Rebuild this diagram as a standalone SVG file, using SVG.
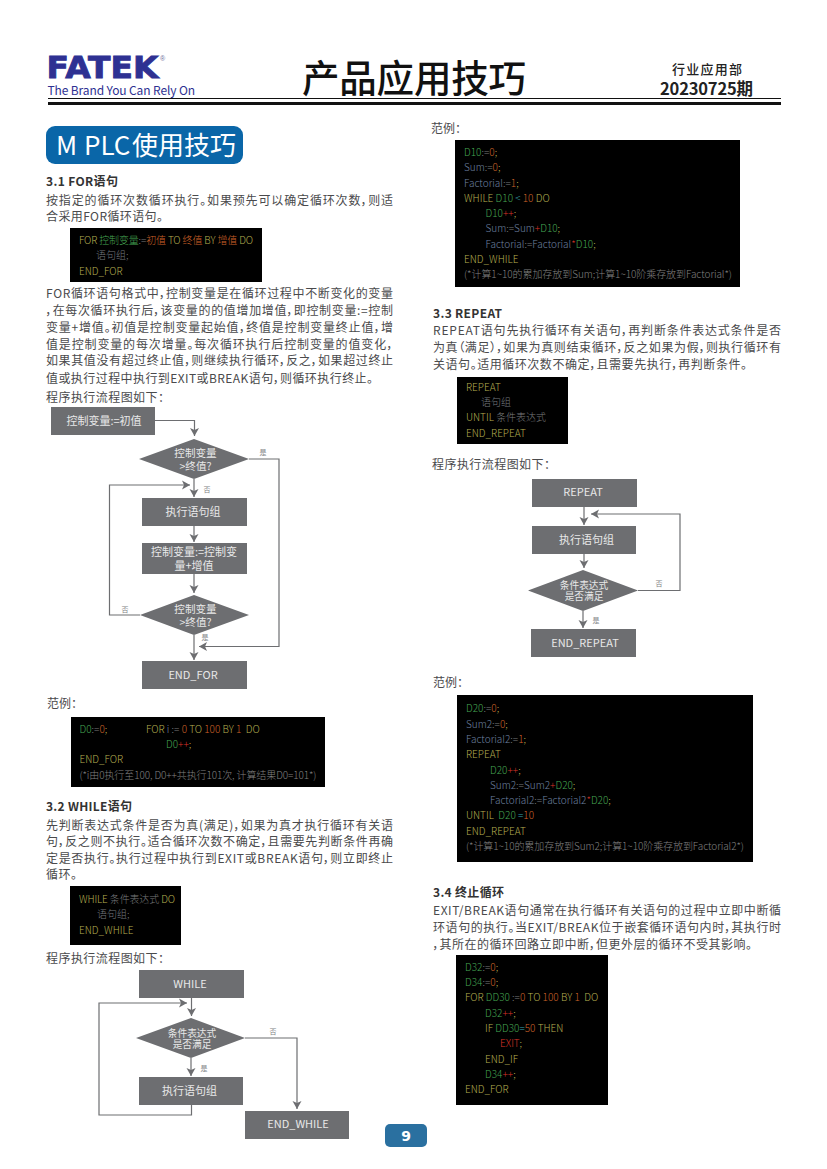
<svg xmlns="http://www.w3.org/2000/svg" width="827" height="1169" viewBox="0 0 827 1169">
<style>
text{font-family:"Noto Sans CJK SC","Noto Sans",sans-serif;font-feature-settings:"palt";white-space:pre}
.b{font-size:12px;fill:#4a4a4c}
.h{font-size:12px;font-weight:700;fill:#333}
.c{font-size:10px;font-weight:300;fill:#74787e}
.k{fill:#b5ae50}.g{fill:#45a552}.o{fill:#cc6028}.r{fill:#d83428}.n{fill:#6e80a0}.t{fill:#38a5b0}.m{fill:#808080}.w{fill:#787a7c}
.nb{fill:#6d6e71}
.l{font-size:11px;fill:#e8e8e8;text-anchor:middle}
.d{font-size:10.6px;fill:#e8e8e8;text-anchor:middle}
.d2{font-size:9.7px;fill:#e8e8e8;text-anchor:middle}
.e{font-size:7px;fill:#808285;text-anchor:middle}
.cn path,.cn polyline{fill:none;stroke:#6d6e71;stroke-width:1.2}
</style>
<defs>
<marker id="a" markerUnits="userSpaceOnUse" markerWidth="10" markerHeight="10" refX="8" refY="5" orient="auto"><path d="M0,0.5 L8,5 L0,9.5 L2,5 Z" fill="#6d6e71"/></marker>
</defs>
<rect width="827" height="1169" fill="#fff"/>

<g id="header">
<text x="46.5" y="78" font-size="31" fill="#2e3192" stroke="#2e3192" stroke-width="0.9" textLength="112" lengthAdjust="spacingAndGlyphs" style="font-family:'DejaVu Sans','Liberation Sans',sans-serif;font-weight:700">FATEK</text>
<text x="160" y="61" font-size="7" fill="#6d6e9a" style="font-family:'Liberation Sans',sans-serif">®</text>
<text x="47.5" y="95" font-size="12" fill="#2e3192" textLength="147.5">The Brand You Can Rely On</text>
<text x="302" y="92" font-size="37.5" font-weight="500" fill="#111" textLength="224">产品应用技巧</text>
<text x="672" y="74" font-size="13" font-weight="500" fill="#222" textLength="70">行业应用部</text>
<text x="660" y="95" font-size="16.5" font-weight="700" fill="#222" textLength="93">20230725期</text>
<rect x="48" y="98" width="733" height="1" fill="#111"/>
<rect x="48" y="102" width="733" height="3" fill="#111"/>
</g>

<g id="title">
<rect x="46" y="126" width="197" height="38" rx="9" fill="#0a66a8"/>
<text y="155" font-size="26" fill="#fff"><tspan x="56">M</tspan><tspan x="84">PLC</tspan><tspan x="132">使用技巧</tspan></text>
</g>

<g id="left-text">
<text class="h" x="46" y="186" textLength="72">3.1 FOR语句</text>
<text class="b" x="46" y="205" textLength="347">按指定的循环次数循环执行。如果预先可以确定循环次数，则适</text>
<text class="b" x="46" y="221" textLength="117">合采用FOR循环语句。</text>
<text class="b" x="46" y="298" textLength="347">FOR循环语句格式中，控制变量是在循环过程中不断变化的变量</text>
<text class="b" x="46" y="315" textLength="347">，在每次循环执行后，该变量的的值增加增值，即控制变量:=控制</text>
<text class="b" x="46" y="332" textLength="347">变量+增值。初值是控制变量起始值，终值是控制变量终止值，增</text>
<text class="b" x="46" y="349" textLength="347">值是控制变量的每次增量。每次循环执行后控制变量的值变化，</text>
<text class="b" x="46" y="365" textLength="347">如果其值没有超过终止值，则继续执行循环，反之，如果超过终止</text>
<text class="b" x="46" y="383" textLength="327">值或执行过程中执行到EXIT或BREAK语句，则循环执行终止。</text>
<text class="b" x="46" y="402" textLength="118">程序执行流程图如下：</text>
<text class="b" x="47" y="708" textLength="30">范例：</text>
<text class="h" x="46" y="811" textLength="86">3.2 WHILE语句</text>
<text class="b" x="46" y="830" textLength="347">先判断表达式条件是否为真(满足)，如果为真才执行循环有关语</text>
<text class="b" x="46" y="846" textLength="347">句，反之则不执行。适合循环次数不确定，且需要先判断条件再确</text>
<text class="b" x="46" y="863" textLength="347">定是否执行。执行过程中执行到EXIT或BREAK语句，则立即终止</text>
<text class="b" x="46" y="879" textLength="31">循环。</text>
<text class="b" x="46" y="963" textLength="118">程序执行流程图如下：</text>
</g>

<g id="right-text">
<text class="b" x="431" y="133" textLength="30">范例：</text>
<text class="h" x="433" y="318" textLength="69">3.3 REPEAT</text>
<text class="b" x="433" y="335" textLength="348">REPEAT语句先执行循环有关语句，再判断条件表达式条件是否</text>
<text class="b" x="433" y="352" textLength="348">为真（满足），如果为真则结束循环，反之如果为假，则执行循环有</text>
<text class="b" x="433" y="369" textLength="314">关语句。适用循环次数不确定，且需要先执行，再判断条件。</text>
<text class="b" x="432" y="469" textLength="118">程序执行流程图如下：</text>
<text class="b" x="433" y="687" textLength="30">范例：</text>
<text class="h" x="433" y="897" textLength="71">3.4 终止循环</text>
<text class="b" x="433" y="915" textLength="348">EXIT/BREAK语句通常在执行循环有关语句的过程中立即中断循</text>
<text class="b" x="433" y="932" textLength="348">环语句的执行。当EXIT/BREAK位于嵌套循环语句内时，其执行时</text>
<text class="b" x="433" y="949" textLength="319">，其所在的循环回路立即中断，但更外层的循环不受其影响。</text>
</g>

<g id="code-for-syntax">
<rect x="70" y="228" width="192" height="54" fill="#000"/>
<text class="c" x="79" y="244" textLength="174"><tspan class="k">FOR </tspan><tspan class="g">控制变量</tspan><tspan class="w">:=</tspan><tspan class="o">初值</tspan><tspan class="k"> TO </tspan><tspan class="o">终值</tspan><tspan class="k"> BY </tspan><tspan class="o">增值</tspan><tspan class="k"> DO</tspan></text>
<text class="c" x="96" y="259">语句组;</text>
<text class="c k" x="79" y="275">END_FOR</text>
</g>

<g id="code-for-example">
<rect x="71" y="717" width="254" height="70" fill="#000"/>
<text class="c" x="79.5" y="733"><tspan class="g">D0</tspan><tspan class="w">:=</tspan><tspan class="o">0</tspan><tspan class="k">;</tspan></text>
<text class="c" x="146" y="733"><tspan class="k">FOR </tspan><tspan class="n">i</tspan><tspan class="w"> := </tspan><tspan class="o">0</tspan><tspan class="k"> TO </tspan><tspan class="o">100</tspan><tspan class="k"> BY </tspan><tspan class="o">1</tspan><tspan class="k">  DO</tspan></text>
<text class="c" x="166" y="748"><tspan class="g">D0</tspan><tspan class="r">++</tspan><tspan class="k">;</tspan></text>
<text class="c k" x="79.5" y="763">END_FOR</text>
<text class="c m" x="79.5" y="779" textLength="237">(*i由0执行至100, D0++共执行101次, 计算结果D0=101*)</text>
</g>

<g id="code-while-syntax">
<rect x="70" y="886" width="111" height="59" fill="#000"/>
<text class="c" x="79" y="903" textLength="96"><tspan class="k">WHILE </tspan><tspan class="w">条件表达式</tspan><tspan class="k"> DO</tspan></text>
<text class="c" x="97" y="918">语句组;</text>
<text class="c k" x="79" y="934">END_WHILE</text>
</g>

<g id="code-while-example">
<rect x="455" y="140" width="285" height="147" fill="#000"/>
<text class="c" x="464" y="156"><tspan class="g">D10</tspan><tspan class="w">:=</tspan><tspan class="o">0</tspan><tspan class="k">;</tspan></text>
<text class="c" x="464" y="171"><tspan class="n">Sum</tspan><tspan class="w">:=</tspan><tspan class="o">0</tspan><tspan class="k">;</tspan></text>
<text class="c" x="464" y="187"><tspan class="n">Factorial</tspan><tspan class="w">:=</tspan><tspan class="o">1</tspan><tspan class="k">;</tspan></text>
<text class="c" x="464" y="202"><tspan class="k">WHILE </tspan><tspan class="g">D10</tspan><tspan class="t"> &lt; </tspan><tspan class="o">10</tspan><tspan class="k"> DO</tspan></text>
<text class="c" x="485.5" y="217"><tspan class="g">D10</tspan><tspan class="r">++</tspan><tspan class="k">;</tspan></text>
<text class="c" x="485.5" y="232"><tspan class="n">Sum</tspan><tspan class="w">:=</tspan><tspan class="n">Sum</tspan><tspan class="r">+</tspan><tspan class="g">D10</tspan><tspan class="k">;</tspan></text>
<text class="c" x="485.5" y="248"><tspan class="n">Factorial</tspan><tspan class="w">:=</tspan><tspan class="n">Factorial</tspan><tspan class="r">*</tspan><tspan class="g">D10</tspan><tspan class="k">;</tspan></text>
<text class="c k" x="464" y="263">END_WHILE</text>
<text class="c m" x="464" y="278" textLength="268">(*计算1~10的累加存放到Sum;计算1~10阶乘存放到Factorial*)</text>
</g>

<g id="code-repeat-syntax">
<rect x="457" y="377" width="111" height="67" fill="#000"/>
<text class="c k" x="466" y="391">REPEAT</text>
<text class="c" x="481" y="406">语句组</text>
<text class="c" x="466" y="421"><tspan class="k">UNTIL </tspan><tspan class="w">条件表达式</tspan></text>
<text class="c k" x="466" y="437">END_REPEAT</text>
</g>

<g id="code-repeat-example">
<rect x="457" y="695" width="296" height="167" fill="#000"/>
<text class="c" x="466" y="712"><tspan class="g">D20</tspan><tspan class="w">:=</tspan><tspan class="o">0</tspan><tspan class="k">;</tspan></text>
<text class="c" x="466" y="728"><tspan class="n">Sum2</tspan><tspan class="w">:=</tspan><tspan class="o">0</tspan><tspan class="k">;</tspan></text>
<text class="c" x="466" y="743"><tspan class="n">Factorial2</tspan><tspan class="w">:=</tspan><tspan class="o">1</tspan><tspan class="k">;</tspan></text>
<text class="c k" x="466" y="758">REPEAT</text>
<text class="c" x="490" y="774"><tspan class="g">D20</tspan><tspan class="r">++</tspan><tspan class="k">;</tspan></text>
<text class="c" x="490" y="789"><tspan class="n">Sum2</tspan><tspan class="w">:=</tspan><tspan class="n">Sum2</tspan><tspan class="r">+</tspan><tspan class="g">D20</tspan><tspan class="k">;</tspan></text>
<text class="c" x="490" y="804"><tspan class="n">Factorial2</tspan><tspan class="w">:=</tspan><tspan class="n">Factorial2</tspan><tspan class="r">*</tspan><tspan class="g">D20</tspan><tspan class="k">;</tspan></text>
<text class="c" x="466" y="819"><tspan class="k">UNTIL  </tspan><tspan class="g">D20</tspan><tspan class="t"> =</tspan><tspan class="o">10</tspan></text>
<text class="c k" x="466" y="835">END_REPEAT</text>
<text class="c m" x="466" y="850" textLength="278">(*计算1~10的累加存放到Sum2;计算1~10阶乘存放到Factorial2*)</text>
</g>

<g id="code-exit-example">
<rect x="456" y="955" width="152" height="150" fill="#000"/>
<text class="c" x="465" y="971"><tspan class="g">D32</tspan><tspan class="w">:=</tspan><tspan class="o">0</tspan><tspan class="k">;</tspan></text>
<text class="c" x="465" y="986"><tspan class="g">D34</tspan><tspan class="w">:=</tspan><tspan class="o">0</tspan><tspan class="k">;</tspan></text>
<text class="c" x="465" y="1001"><tspan class="k">FOR </tspan><tspan class="g">DD30</tspan><tspan class="w"> :=</tspan><tspan class="o">0</tspan><tspan class="k"> TO </tspan><tspan class="o">100</tspan><tspan class="k"> BY </tspan><tspan class="o">1</tspan><tspan class="k">  DO</tspan></text>
<text class="c" x="485" y="1017"><tspan class="g">D32</tspan><tspan class="r">++</tspan><tspan class="k">;</tspan></text>
<text class="c" x="485" y="1032"><tspan class="k">IF </tspan><tspan class="g">DD30</tspan><tspan class="t">=</tspan><tspan class="o">50</tspan><tspan class="k"> THEN</tspan></text>
<text class="c" x="500" y="1047"><tspan class="r">EXIT</tspan><tspan class="k">;</tspan></text>
<text class="c k" x="485" y="1063">END_IF</text>
<text class="c" x="485" y="1078"><tspan class="g">D34</tspan><tspan class="r">++</tspan><tspan class="k">;</tspan></text>
<text class="c k" x="465" y="1093">END_FOR</text>
</g>

<g id="connectors" class="cn">
<polyline points="155,420.5 194.5,420.5 194.5,436" marker-end="url(#a)"/>
<polyline points="249,459 279,459 279,646.5 199,646.5" marker-end="url(#a)"/>
<polyline points="194,479 194,497" marker-end="url(#a)"/>
<polyline points="194,526 194,542" marker-end="url(#a)"/>
<polyline points="194,574 194,593" marker-end="url(#a)"/>
<polyline points="194,635 194,660" marker-end="url(#a)"/>
<polyline points="140,615 109.5,615 109.5,485 190,485" marker-end="url(#a)"/>
<polyline points="191.5,998 191.5,1016" marker-end="url(#a)"/>
<polyline points="191,1058 191,1076" marker-end="url(#a)"/>
<polyline points="191.5,1105 191.5,1115 99,1115 99,1003 187,1003" marker-end="url(#a)"/>
<polyline points="245,1038 297,1038 297,1109" marker-end="url(#a)"/>
<polyline points="584,507 584,525" marker-end="url(#a)"/>
<polyline points="584,554 584,568" marker-end="url(#a)"/>
<polyline points="583,611 583,628" marker-end="url(#a)"/>
<polyline points="638,590.5 680,590.5 680,514 591,514" marker-end="url(#a)"/>
</g>

<g id="n-for-init"><rect class="nb" x="51" y="407" width="104" height="28"/><text class="l" x="104" y="424.5">控制变量:=初值</text></g>
<g id="n-for-cond1"><polygon class="nb" points="139,459 194,439 249,459 194,479"/><text class="d" y="457"><tspan x="195.5">控制变量</tspan><tspan x="195.5" dy="13">&gt;终值?</tspan></text></g>
<g id="n-for-exec"><rect class="nb" x="142" y="498" width="105" height="28"/><text class="l" x="193" y="516">执行语句组</text></g>
<g id="n-for-update"><rect class="nb" x="142" y="543" width="105" height="31"/><text class="l" y="556"><tspan x="194">控制变量:=控制变</tspan><tspan x="194" dy="14">量+增值</tspan></text></g>
<g id="n-for-cond2"><polygon class="nb" points="140,615 194,595 249,615 194,635"/><text class="d" y="613"><tspan x="195.5">控制变量</tspan><tspan x="195.5" dy="13">&gt;终值?</tspan></text></g>
<g id="n-for-end"><rect class="nb" x="142" y="661" width="105" height="28"/><text class="l" x="193" y="679">END_FOR</text></g>
<g id="labels-for"><text class="e" x="263" y="455">是</text><text class="e" x="207" y="492">否</text><text class="e" x="125" y="612">否</text><text class="e" x="205" y="640">是</text></g>

<g id="n-while"><rect class="nb" x="139" y="970" width="105" height="28"/><text class="l" x="190" y="988">WHILE</text></g>
<g id="n-while-cond"><polygon class="nb" points="136,1038 191,1018 245,1038 191,1058"/><text class="d2" y="1036.5"><tspan x="192">条件表达式</tspan><tspan x="192" dy="11.7">是否满足</tspan></text></g>
<g id="n-while-exec"><rect class="nb" x="139" y="1077" width="104" height="28"/><text class="l" x="189.5" y="1095">执行语句组</text></g>
<g id="n-while-end"><rect class="nb" x="245" y="1111" width="104" height="28"/><text class="l" x="298" y="1128">END_WHILE</text></g>
<g id="labels-while"><text class="e" x="273" y="1034">否</text><text class="e" x="204" y="1071">是</text></g>

<g id="n-repeat"><rect class="nb" x="532" y="479" width="105" height="28"/><text class="l" x="583" y="496">REPEAT</text></g>
<g id="n-repeat-exec"><rect class="nb" x="532" y="526" width="104" height="28"/><text class="l" x="586.5" y="544">执行语句组</text></g>
<g id="n-repeat-cond"><polygon class="nb" points="528,590.5 583,570 638,590.5 583,611"/><text class="d2" y="588.5"><tspan x="584">条件表达式</tspan><tspan x="584" dy="11.7">是否满足</tspan></text></g>
<g id="n-repeat-end"><rect class="nb" x="531" y="629" width="105" height="28"/><text class="l" x="585" y="647">END_REPEAT</text></g>
<g id="labels-repeat"><text class="e" x="659" y="586">否</text><text class="e" x="596" y="623">是</text></g>

<g id="page-number">
<rect x="385" y="1124" width="42" height="23" rx="5" fill="#2a70a0"/>
<text x="406" y="1140.5" font-size="14" font-weight="700" fill="#fff" text-anchor="middle" style="font-family:'DejaVu Sans',sans-serif">9</text>
</g>
</svg>
